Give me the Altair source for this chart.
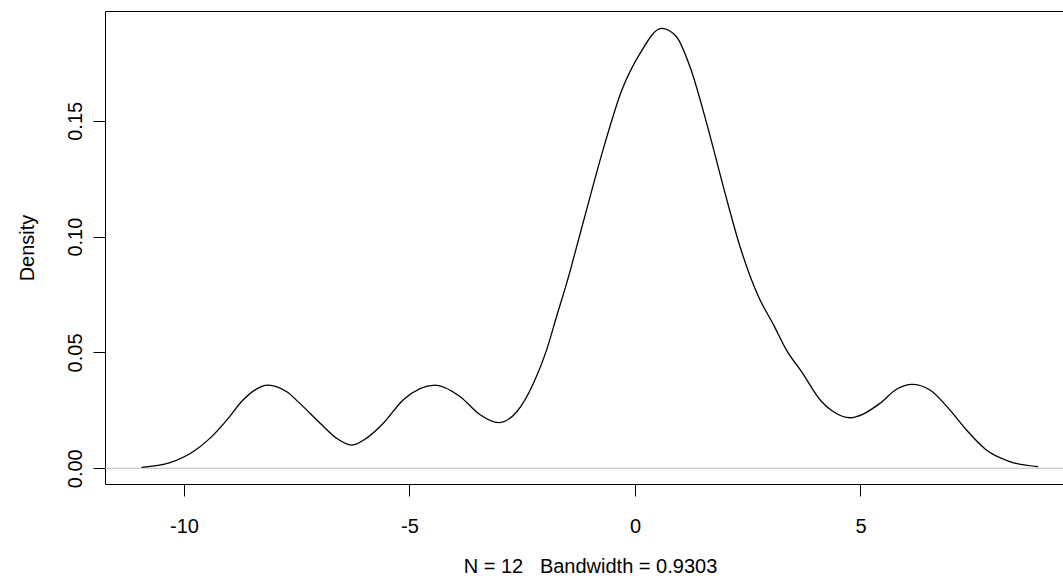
import altair as alt
import pandas as pd

# Density curve
x_vals = [-10.94, -10.31, -9.79, -9.42, -9.05, -8.69, -8.13, -7.72, -7.43, -6.98,
          -6.62, -6.28, -5.95, -5.58, -5.14, -4.43, -3.88, -3.44, -3.03, -2.62,
          -2.25, -1.96, -1.74, -1.52, -1.15, -0.70, -0.29, 0.11, 0.59, 0.92,
          1.22, 1.59, 1.96, 2.33, 2.74, 3.07, 3.36, 3.70, 4.14, 4.40,
          4.77, 5.06, 5.43, 5.80, 6.14, 6.54, 6.98, 7.35, 7.79, 8.31, 8.94]
dens_vals = [0.0004, 0.0024, 0.0072, 0.0130, 0.0208, 0.0295, 0.0359, 0.0330, 0.0280, 0.0194,
             0.0130, 0.0100, 0.0130, 0.0194, 0.0295, 0.0359, 0.0310, 0.0232, 0.0197, 0.0244,
             0.0367, 0.0510, 0.0654, 0.0795, 0.1060, 0.1380, 0.1633, 0.1790, 0.1899, 0.1863,
             0.1733, 0.1489, 0.1215, 0.0956, 0.0740, 0.0620, 0.0510, 0.0415, 0.0287, 0.0244,
             0.0218, 0.0234, 0.0280, 0.0341, 0.0362, 0.0338, 0.0252, 0.0165, 0.0079, 0.0029, 0.0007]

x_ticks = [-10, -5, 0, 5]
y_ticks = [0.0, 0.05, 0.10, 0.15]
zero_level = [0.0]
x_title = "N = 12\u00a0\u00a0 Bandwidth = 0.9303"
y_title = "Density"

curve = pd.DataFrame({"x": x_vals, "density": dens_vals})
zero = pd.DataFrame({"y": zero_level})

FONT = "Liberation Sans"
FS = 20

xscale = alt.Scale(domain=[-11.75, 9.49], nice=False, zero=False)
yscale = alt.Scale(domain=[-0.0068, 0.1974], nice=False, zero=False)

x_axis = alt.Axis(
    values=x_ticks, title=x_title, grid=False, domain=False,
    labelExpr="'' + datum.value",
    tickSize=12, tickColor="black", tickWidth=1,
    labelFont=FONT, labelFontSize=FS, labelColor="black",
    labelPadding=36, labelBaseline="alphabetic", labelFlush=False,
    titleFont=FONT, titleFontSize=FS, titleFontWeight="normal", titleColor="black",
    titleX=485, titleY=88, titleAlign="center", titleBaseline="alphabetic",
)
y_axis = alt.Axis(
    values=y_ticks, format=".2f", title=y_title, grid=False, domain=False,
    tickSize=12, tickColor="black", tickWidth=1,
    labelFont=FONT, labelFontSize=FS, labelColor="black",
    labelAngle=270, labelAlign="center", labelBaseline="alphabetic",
    labelPadding=12, labelFlush=False,
    titleFont=FONT, titleFontSize=FS, titleFontWeight="normal", titleColor="black",
    titleAngle=270, titleX=-72, titleY=236.5, titleAlign="center", titleBaseline="alphabetic",
)

zero_rule = alt.Chart(zero).mark_rule(color="#bebebe", strokeWidth=1).encode(
    y=alt.Y("y:Q", scale=yscale, axis=y_axis)
)

line = alt.Chart(curve).mark_line(color="black", strokeWidth=1.3, interpolate="monotone").encode(
    x=alt.X("x:Q", scale=xscale, axis=x_axis),
    y=alt.Y("density:Q", scale=yscale, axis=y_axis),
)

chart = alt.layer(zero_rule, line).properties(
    width=958, height=473,
    autosize=alt.AutoSizeParams(type="none"),
    padding={"left": 105, "top": 11, "right": 0, "bottom": 97},
    background="white",
).configure_view(stroke="black", strokeWidth=1)

chart.save("out.html", embed_options={"renderer": "svg", "actions": False})
